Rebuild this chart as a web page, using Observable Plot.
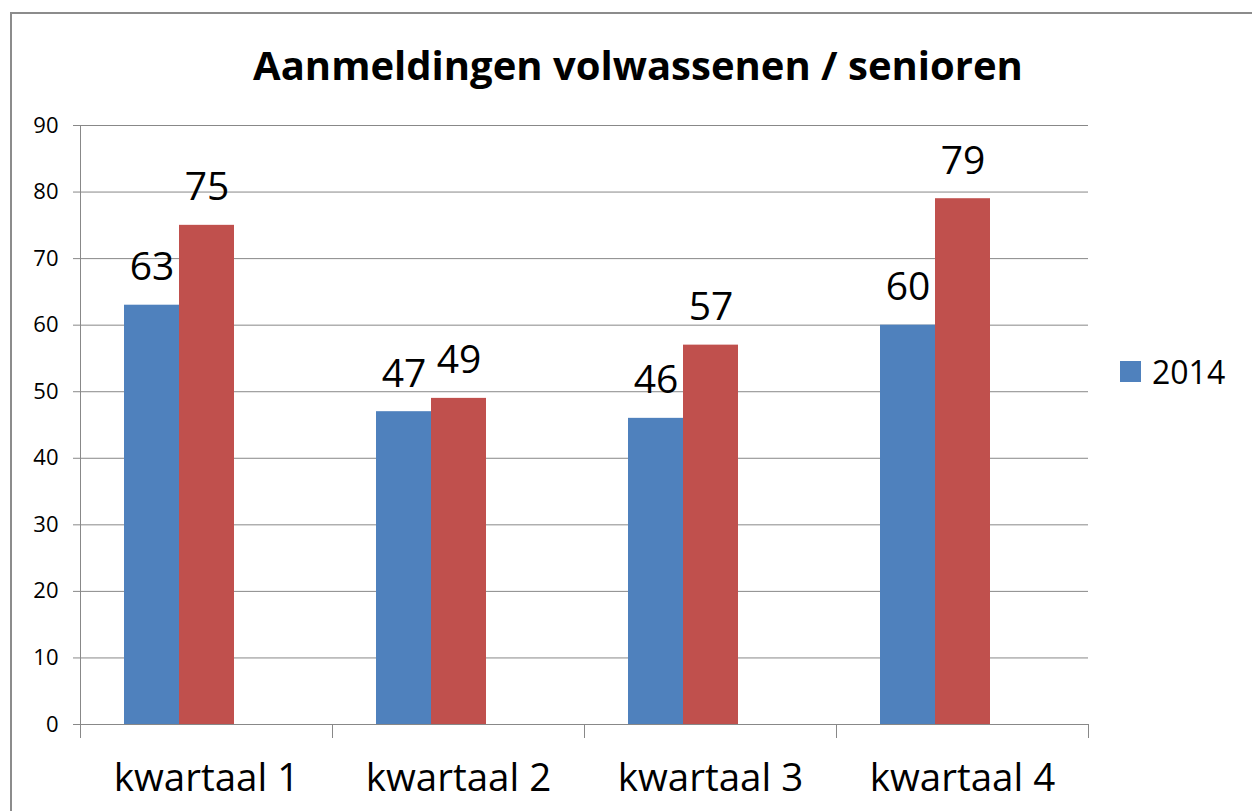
<!DOCTYPE html>
<html><head><meta charset="utf-8">
<script src="https://cdn.jsdelivr.net/npm/d3@7"></script>
<script src="https://cdn.jsdelivr.net/npm/@observablehq/plot@0.6"></script>
<style>
html,body{margin:0;padding:0;background:#fff;overflow:hidden;}
#wrap{position:relative;width:1252px;height:811px;overflow:hidden;font-family:"Open Sans",sans-serif;background:#fff;}
#border{position:absolute;left:10px;top:12px;width:1400px;height:1000px;border:2px solid #8c8c8c;box-sizing:border-box;}
#title{position:absolute;left:638px;top:45px;transform:translateX(-50%);white-space:nowrap;font-weight:700;font-size:40px;line-height:40px;color:#000;}
#chart{position:absolute;left:0;top:100px;}
#legend{position:absolute;left:1120px;top:351px;height:40px;display:flex;align-items:center;font-size:32px;color:#000;}
#legend .sw{width:21px;height:21px;margin-right:11px;}
</style>
</head><body>
<div id="wrap">
  <div id="border"></div>
  <div id="title"></div>
  <div id="chart"></div>
  <div id="legend"></div>
</div>
<script>
const titleText = "Aanmeldingen volwassenen / senioren";
const quarters = ["kwartaal 1", "kwartaal 2", "kwartaal 3", "kwartaal 4"];
const series = ["2014", "2015"];
const values2014 = [63, 47, 46, 60];
const values2015 = [75, 49, 57, 79];
const seriesColors = ["#4F81BD", "#C0504D"];
const yTicks = [0, 10, 20, 30, 40, 50, 60, 70, 80, 90];
const legendLabels = ["2014"];

const data = quarters.flatMap((q, i) => [
  {q, s: series[0], v: values2014[i]},
  {q, s: series[1], v: values2015[i]}
]);
const slots = [...series, ""]; // third, empty series slot as in the original

document.getElementById("title").textContent = titleText;
const leg = document.getElementById("legend");
legendLabels.forEach((l) => {
  const sw = document.createElement("div");
  sw.className = "sw";
  sw.style.background = seriesColors[series.indexOf(l)];
  const t = document.createElement("span");
  t.textContent = l;
  leg.appendChild(sw); leg.appendChild(t);
});

const H = 711, mt = 25, mb = 87;
const plotH = H - mt - mb;
const gray = "#888888";
const chart = Plot.plot({
  width: 1252, height: H,
  marginTop: mt, marginBottom: mb, marginLeft: 80, marginRight: 164,
  style: {fontFamily: "Open Sans", background: "transparent", color: "#000"},
  fx: {domain: quarters, padding: 0, label: null, axis: null},
  x: {domain: slots, paddingInner: 0, paddingOuter: 0.77, axis: null},
  y: {domain: [0, 90], axis: null},
  color: {domain: series, range: seriesColors},
  marks: [
    Plot.gridY(yTicks, {stroke: gray, strokeOpacity: 1}),
    Plot.barY(data, {fx: "q", x: "s", y: "v", fill: "s"}),
    Plot.text(data, {fx: "q", x: "s", y: "v", text: d => String(d.v), lineAnchor: "bottom", dy: -25, fontSize: 39, fill: "#000"}),
    Plot.axisY(yTicks, {tickSize: 7, tickPadding: 15, fontSize: 22, stroke: gray, fill: "#000", label: null}),
    Plot.frame({anchor: "left", facetAnchor: "left", insetBottom: -13, stroke: gray}),
    Plot.frame({anchor: "left", insetTop: plotH, insetBottom: -13, stroke: gray}),
    Plot.frame({anchor: "right", facetAnchor: "right", insetTop: plotH, insetBottom: -13, stroke: gray}),
    Plot.axisFx({anchor: "bottom", tickSize: 0, tickPadding: 39, fontSize: 38.5, fill: "#000", label: null})
  ]
});
document.getElementById("chart").appendChild(chart);
</script>
</body></html>
